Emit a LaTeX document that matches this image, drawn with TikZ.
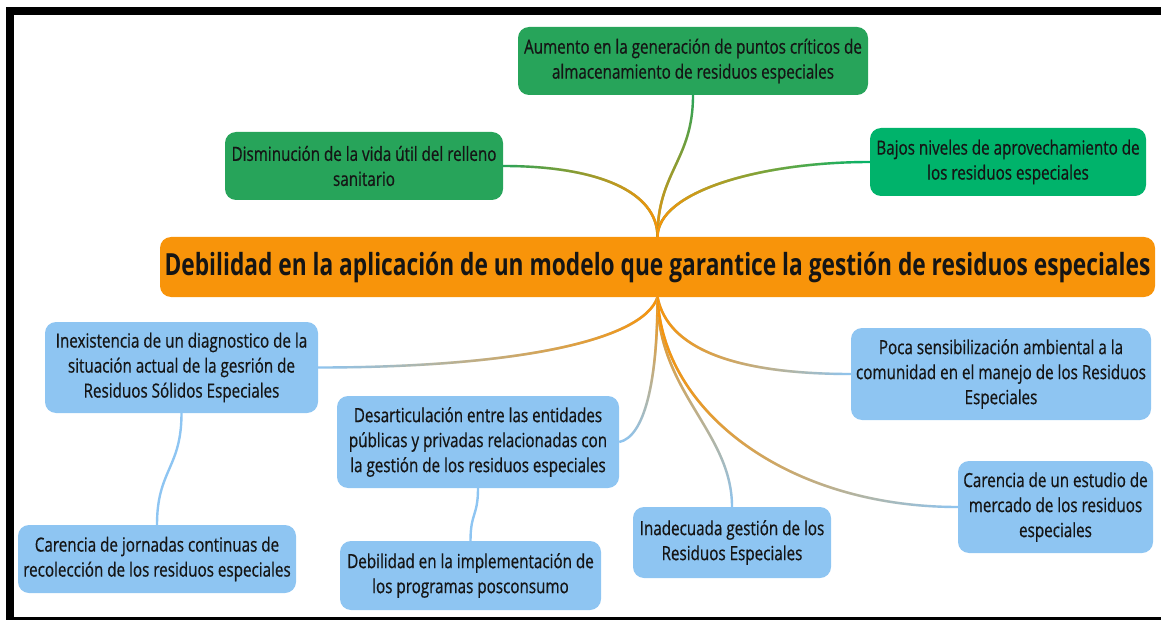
\documentclass[tikz,border=0pt]{standalone}
\usepackage{fontspec}
\setmainfont{Open Sans}[FakeStretch=0.78,FakeBold=0.6]
\newfontfamily\titlefont{Open Sans}[FakeStretch=0.745]
\usepackage{xcolor}
\usepackage{tikz}
\usetikzlibrary{fadings}

\definecolor{ink}{HTML}{151515}
\definecolor{darkgn}{HTML}{27A45A}
\definecolor{brightgn}{HTML}{00B36B}
\definecolor{hub}{HTML}{F8940A}
\definecolor{skyblue}{HTML}{8EC5F2}

\begin{document}
\begin{tikzpicture}[x=1pt,y=-1pt,
    box/.style={rounded corners=11pt,align=center,inner sep=0pt,text=ink,
      font=\fontsize{19.5}{25}\selectfont},
    gnbox/.style={box,fill=darkgn},
    bluebox/.style={box,fill=skyblue},
    link/.style={line width=2.4pt},
    glow/.style={line width=2.6pt,hub}]
  \useasboundingbox (0,0) rectangle (1161,620);
  \clip (0,0) rectangle (1161,620);
  \draw[line width=8pt] (9.5,11) rectangle (1180,621);

  % central problem
  \node[box,fill=hub,minimum width=995pt,minimum height=60pt,
    font=\titlefont\fontsize{30.5}{34}\selectfont\bfseries] (cen) at (657.5,267)
    {Debilidad en la aplicación de un modelo que garantice la gestión de residuos especiales};

  % effects
  \node[gnbox,minimum width=350pt,minimum height=68pt] (aum) at (693,61)
    {Aumento en la generación de puntos críticos de\\almacenamiento de residuos especiales};
  \node[gnbox,minimum width=278pt,minimum height=68pt] (dis) at (364,166)
    {Disminución de la vida útil del relleno\\sanitario};
  \node[box,fill=brightgn,minimum width=276pt,minimum height=68pt] (baj) at (1008,162)
    {Bajos niveles de aprovechamiento de\\los residuos especiales};

  % causes
  \node[bluebox,minimum width=273pt,minimum height=91pt] (inx) at (181.5,367.5)
    {Inexistencia de un diagnostico de la\\situación actual de la gesrión de\\Residuos Sólidos Especiales};
  \node[bluebox,minimum width=278pt,minimum height=68pt] (jor) at (157,559)
    {Carencia de jornadas continuas de\\recolección de los residuos especiales};
  \node[bluebox,minimum width=282pt,minimum height=92pt] (des) at (478,442)
    {Desarticulación entre las entidades\\públicas y privadas relacionadas con\\la gestión de los residuos especiales};
  \node[bluebox,minimum width=261pt,minimum height=69pt] (pos) at (470.5,575.5)
    {Debilidad en la implementación de\\los programas posconsumo};
  \node[bluebox,minimum width=198pt,minimum height=71pt] (ina) at (732,542.5)
    {Inadecuada gestión de los\\Residuos Especiales};
  \node[bluebox,minimum width=300pt,minimum height=92pt] (poc) at (1001,374)
    {Poca sensibilización ambiental a la\\comunidad en el manejo de los Residuos\\Especiales};
  \node[bluebox,minimum width=195pt,minimum height=92pt] (mer) at (1055.5,507)
    {Carencia de un estudio de\\mercado de los residuos\\especiales};

  % branches above
  \draw[link,darkgn] (cen.north) .. controls +(0,-65) and +(0,65) .. (aum.south);
  \draw[glow,path fading=north] (cen.north) .. controls +(0,-65) and +(0,65) .. (aum.south);
  \draw[link,darkgn] (cen.north) .. controls +(0,-45) and +(95,0) .. (dis.east);
  \draw[glow,path fading=west] (cen.north) .. controls +(0,-45) and +(95,0) .. (dis.east);
  \draw[link,brightgn] (cen.north) .. controls +(0,-45) and +(-110,0) .. (baj.west);
  \draw[glow,path fading=east] (cen.north) .. controls +(0,-45) and +(-110,0) .. (baj.west);

  % branches below
  \draw[link,skyblue] (cen.south) .. controls +(-15,45) and +(190,0) .. (inx.east);
  \draw[glow,path fading=west] (cen.south) .. controls +(-15,45) and +(190,0) .. (inx.east);
  \draw[link,skyblue] (cen.south) .. controls +(0,85) and +(25,-5) .. (des.east);
  \draw[glow,path fading=south] (cen.south) .. controls +(0,85) and +(25,-5) .. (des.east);
  \draw[link,skyblue] (cen.south) .. controls +(0,95) and +(0,-75) .. (ina.north);
  \draw[glow,path fading=south] (cen.south) .. controls +(0,95) and +(0,-75) .. (ina.north);
  \draw[link,skyblue] (cen.south) .. controls +(10,50) and +(-120,0) .. (poc.west);
  \draw[glow,path fading=east] (cen.south) .. controls +(10,50) and +(-120,0) .. (poc.west);
  \draw[link,skyblue] (cen.south) .. controls +(5,115) and +(-170,0) .. (mer.west);
  \draw[glow,path fading=east] (cen.south) .. controls +(5,115) and +(-170,0) .. (mer.west);

  % sub-causes
  \draw[link,skyblue] (inx.south) .. controls +(0,55) and +(0,-55) .. (jor.north);
  \draw[link,skyblue] (des.south) .. controls +(0,28) and +(0,-28) .. (pos.north);
\end{tikzpicture}
\end{document}
